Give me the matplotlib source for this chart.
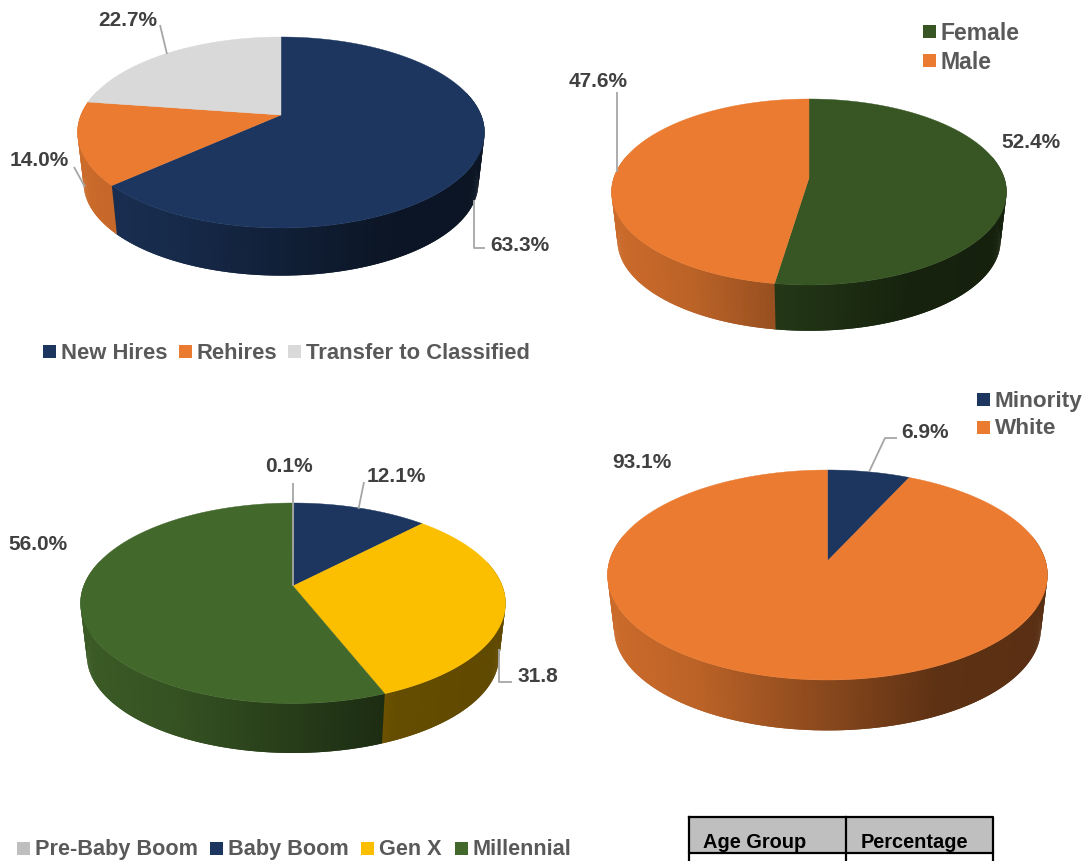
import numpy as np
import matplotlib
matplotlib.use('Agg')
import matplotlib.pyplot as plt
from matplotlib.colors import to_rgb
from matplotlib.patches import Polygon, Rectangle

plt.rcParams['font.family'] = ['Liberation Sans', 'DejaVu Sans']

NAVY = '#1d365f'
ORANGE = '#ea7b31'
GRAY = '#d9d9d9'
DARK_GREEN = '#375623'
GREEN = '#43682b'
YELLOW = '#fbbf00'
LIGHT_GRAY = '#bfbfbf'

# data
hire_names = ['New Hires', 'Rehires', 'Transfer to Classified']
hire_values = [63.3, 14.0, 22.7]
hire_colors = [NAVY, ORANGE, GRAY]

gender_names = ['Female', 'Male']
gender_values = [52.4, 47.6]
gender_colors = [DARK_GREEN, ORANGE]

age_names = ['Pre-Baby Boom', 'Baby Boom', 'Gen X', 'Millennial']
age_values = [0.1, 12.1, 31.8, 56.0]
age_colors = [LIGHT_GRAY, NAVY, YELLOW, GREEN]
age_texts = ['0.1%', '12.1%', '31.8', '56.0%']

race_names = ['Minority', 'White']
race_values = [6.9, 93.1]
race_colors = [NAVY, ORANGE]

table_headers = ['Age Group', 'Percentage']

# wall shading, left to right across the pie
shade_x = [0.0, 0.2, 0.5, 0.75, 1.0]
shade_f = [0.87, 0.80, 0.58, 0.40, 0.38]

fig = plt.figure(figsize=(10.83, 8.62), dpi=100)
ax = fig.add_axes([0, 0, 1, 1])
ax.set_xlim(0, 1083)
ax.set_ylim(861, -1)
ax.axis('off')


def pie3d(values, colors, cx, cy, half_w, top, bottom, depth, shrink=0.97):
    # circle seen in perspective, front part is bigger than back part
    d_top = cy - top
    d_bot = bottom - cy
    k = (d_bot - d_top) / (d_bot + d_top)
    b = d_bot * (1 - k)
    a = half_w * np.sqrt(1 - k * k)

    def rim(t, dy=0.0, s=1.0):
        u, v = np.sin(t), -np.cos(t)
        w = 1 - k * v
        return cx + s * a * u / w, cy + dy + s * b * v / w

    edges = np.radians(np.cumsum([0] + list(values)) * 3.6)
    # side wall, strips overlap a bit so no seams show
    for i in range(len(values)):
        n = max(int((edges[i + 1] - edges[i]) * 90), 2)
        ts = np.linspace(edges[i], edges[i + 1], n + 1)
        base = np.array(to_rgb(colors[i]))
        for t0, t1 in zip(ts[:-1], ts[1:]):
            if -np.cos((t0 + t1) / 2) < -0.25:
                continue
            t_end = t1 + 0.012
            x0, y0 = rim(t0)
            x1, y1 = rim(t_end)
            x2, y2 = rim(t_end, depth, shrink)
            x3, y3 = rim(t0, depth, shrink)
            frac = ((x0 + x1) / 2 - (cx - half_w)) / (2 * half_w)
            col = base * np.interp(frac, shade_x, shade_f)
            ax.add_patch(Polygon([(x0, y0), (x1, y1), (x2, y2), (x3, y3)],
                                 fc=col, ec='none', zorder=2))
    # top face
    for i in range(len(values)):
        ts = np.linspace(edges[i], edges[i + 1], 200)
        xs, ys = rim(ts)
        pts = [(cx, cy)] + list(zip(xs, ys))
        ax.add_patch(Polygon(pts, fc=colors[i], ec=colors[i], lw=0.3, zorder=3))


def leader(xs, ys):
    ax.plot(xs, ys, color='#a6a6a6', lw=1.3, zorder=4, solid_capstyle='butt')


def label(x, y, s):
    ax.text(x, y + 1, s, fontsize=15, fontweight='bold', color='#404040',
            ha='left', va='center', zorder=5)


def legend_h(names, colors, xs, y, size=15.8):
    for name, col, x in zip(names, colors, xs):
        ax.add_patch(Rectangle((x, y - 6), 12.5, 12.5, fc=col, ec='none'))
        ax.text(x + 18, y + 1, name, fontsize=size, fontweight='bold', color='#595959',
                ha='left', va='center')


# top left
pie3d(hire_values, hire_colors, 281, 115, 203.5, 37, 228, 51)
leader([160, 167], [25, 54])
leader([473.5, 473.5, 485], [200, 248, 248])
leader([74, 85], [167, 187])
label(98, 18, '22.7%')
label(10, 158, '14.0%')
label(490, 243, '63.3%')
legend_h(hire_names, hire_colors, [43, 179, 288], 351)

# top right
pie3d(gender_values, gender_colors, 809, 178, 197.5, 99, 285, 49)
leader([616.5, 616.5], [92, 172])
label(569, 79, '47.6%')
label(1001, 140, '52.4%')
legend_h(gender_names[:1], gender_colors[:1], [923], 31, 16.6)
legend_h(gender_names[1:], gender_colors[1:], [923], 60, 16.6)

# bottom left
pie3d(age_values, age_colors, 293, 586, 212.5, 503, 703.5, 53)
leader([292.5, 292.5], [483, 586])
leader([364, 358.5], [482, 509])
leader([499, 499, 512], [649, 682, 682])
label(265, 465, age_texts[0])
label(367, 474, age_texts[1])
label(517, 674, age_texts[2])
label(8, 543, age_texts[3])
legend_h(age_names, age_colors, [17, 210, 361, 455], 848, 15.6)

# bottom right
pie3d(race_values, race_colors, 827.5, 561, 220, 470, 680, 54)
leader([869, 885, 897], [472, 438, 438])
label(901, 431, '6.9%')
label(612, 460, '93.1%')
legend_h(race_names[:1], race_colors[:1], [977], 399, 16.2)
legend_h(race_names[1:], race_colors[1:], [977], 427, 16.2)

# table cut off at bottom edge
ax.add_patch(Rectangle((689, 817), 304, 36, fc=LIGHT_GRAY, ec='none', zorder=1))
ax.plot([689, 993, 993, 689, 689], [817, 817, 853, 853, 817], color='black', lw=1.6, zorder=2)
ax.plot([689, 689], [853, 862], color='black', lw=1.6, zorder=2)
ax.plot([846, 846], [817, 862], color='black', lw=1.6, zorder=2)
ax.plot([993, 993], [853, 862], color='black', lw=1.6, zorder=2)
ax.text(703, 842, table_headers[0], fontsize=14.4, fontweight='bold', color='black', ha='left', va='center')
ax.text(861, 842, table_headers[1], fontsize=14.4, fontweight='bold', color='black', ha='left', va='center')

fig.savefig('out.png', dpi=100, facecolor='white')
